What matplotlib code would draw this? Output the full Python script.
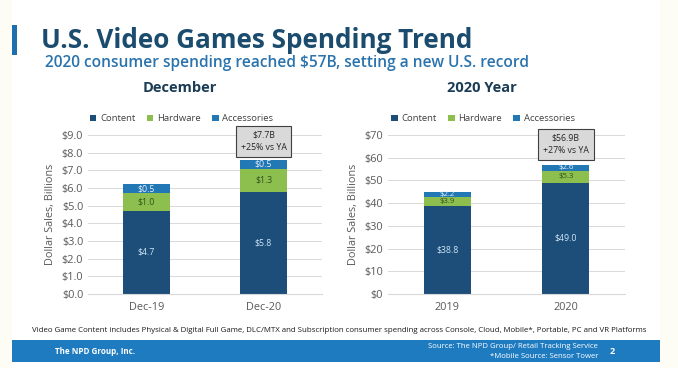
import numpy as np
import matplotlib.pyplot as plt
from matplotlib.patches import Rectangle

plt.rcParams['font.family'] = ['Open Sans', 'DejaVu Sans']

# data
series = ['Content', 'Hardware', 'Accessories']
colors = ['#1d4e7a', '#8dbf4e', '#2277b5']
label_colors = ['#cfe6f7', '#2f4f1f', '#e8f2fa']

dec_cats = ['Dec-19', 'Dec-20']
dec_content = [4.7, 5.8]
dec_hardware = [1.0, 1.3]
dec_access = [0.5, 0.5]
dec_total_note = '$7.7B\n+25% vs YA'

yr_cats = ['2019', '2020']
yr_content = [38.8, 49.0]
yr_hardware = [3.9, 5.3]
yr_access = [2.2, 2.6]
yr_total_note = '$56.9B\n+27% vs YA'

fig = plt.figure(figsize=(6.78, 3.68), dpi=100)
fig.patch.set_facecolor('#fdfdf6')
fig.add_artist(Rectangle((0.018, 0.0), 0.955, 1.0, transform=fig.transFigure,
                         facecolor='white', edgecolor='none', zorder=-5))

# header
fig.add_artist(Rectangle((12/678, 1-55/368), 5/678, 30/368, transform=fig.transFigure,
                         facecolor='#1f6fae', edgecolor='none'))
fig.text(41/678, 1-41/368, 'U.S. Video Games Spending Trend', fontsize=18.8,
         fontweight='bold', color='#1b4c6e', va='center')
fig.text(45/678, 1-63/368, '2020 consumer spending reached $57B, setting a new U.S. record',
         fontsize=11.2, fontweight='semibold', color='#2a73ad', va='center')
fig.text(180/678, 1-88/368, 'December', fontsize=10.5, fontweight='bold',
         color='#1b3c55', ha='center', va='center')
fig.text(482/678, 1-88/368, '2020 Year', fontsize=10.5, fontweight='bold',
         color='#1b3c55', ha='center', va='center')


def stacked(ax, cats, content, hardware, access, top, step, fmt, note, note_y, lsizes):
    x = np.arange(len(cats))
    vals = [content, hardware, access]
    bottom = np.zeros(len(cats))
    for name, v, c, lc, ls in zip(series, vals, colors, label_colors, lsizes):
        bars = ax.bar(x, v, 0.4, bottom=bottom, color=c, label=name, zorder=2)
        ax.bar_label(bars, labels=['$%.1f' % a for a in v], label_type='center',
                     fontsize=ls, color=lc)
        bottom = bottom + np.array(v)
    ax.set_xlim(-0.5, 1.5)
    ax.set_ylim(0, top)
    ax.set_yticks(np.arange(0, top + step / 2, step))
    ax.yaxis.set_major_formatter(fmt)
    ax.set_xticks(x)
    ax.set_xticklabels(cats)
    ax.grid(axis='y', color='#d9d9d9', linewidth=0.7, zorder=0)
    for s in ['top', 'right', 'left']:
        ax.spines[s].set_visible(False)
    ax.spines['bottom'].set_color('#d9d9d9')
    ax.tick_params(length=0, labelsize=7.8, labelcolor='#595959')
    ax.tick_params(axis='x', pad=6)
    ax.set_ylabel('Dollar Sales, Billions', fontsize=7.8, color='#595959')
    ax.legend(loc='lower center', bbox_to_anchor=(0.4, 1.02), ncol=3, frameon=False,
              fontsize=6.8, handlelength=0.7, handleheight=0.7, columnspacing=1.2,
              handletextpad=0.4, labelcolor='#404040')
    ax.text(1, note_y, note, ha='center', va='center', fontsize=6.3, color='#262626',
            linespacing=1.5, clip_on=False,
            bbox=dict(boxstyle='square,pad=0.55', facecolor='#d9d9d9',
                      edgecolor='#404040', linewidth=0.8))


ax1 = fig.add_axes([88/678, 1-294/368, 234/678, 159/368])
stacked(ax1, dec_cats, dec_content, dec_hardware, dec_access, 9, 1,
        lambda v, p: '$%.1f' % v, dec_total_note, 8.65, [6.3, 6.3, 6.3])

ax2 = fig.add_axes([388/678, 1-294/368, 237/678, 159/368])
stacked(ax2, yr_cats, yr_content, yr_hardware, yr_access, 70, 10,
        lambda v, p: '$%d' % v, yr_total_note, 66, [6.3, 5.6, 5.6])

fig.text(0.5, 1-330/368, 'Video Game Content includes Physical & Digital Full Game, DLC/MTX and '
         'Subscription consumer spending across Console, Cloud, Mobile*, Portable, PC and VR Platforms',
         fontsize=5.7, ha='center', va='center', color='#1a1a1a')

# footer
fig.add_artist(Rectangle((12/678, 1-362/368), 648/678, 22/368, transform=fig.transFigure,
                         facecolor='#1f7bc0', edgecolor='none'))
fig.text(55/678, 1-352/368, 'The NPD Group, Inc.', fontsize=5.8, fontweight='bold',
         color='white', va='center')
fig.text(598/678, 1-346/368, 'Source: The NPD Group/ Retail Tracking Service',
         fontsize=5.6, color='white', ha='right', va='center')
fig.text(598/678, 1-357/368, '*Mobile Source: Sensor Tower',
         fontsize=5.6, color='white', ha='right', va='center')
fig.text(612/678, 1-352/368, '2', fontsize=6.5, fontweight='bold', color='white',
         va='center', ha='center')

fig.savefig('out.png', dpi=100)
